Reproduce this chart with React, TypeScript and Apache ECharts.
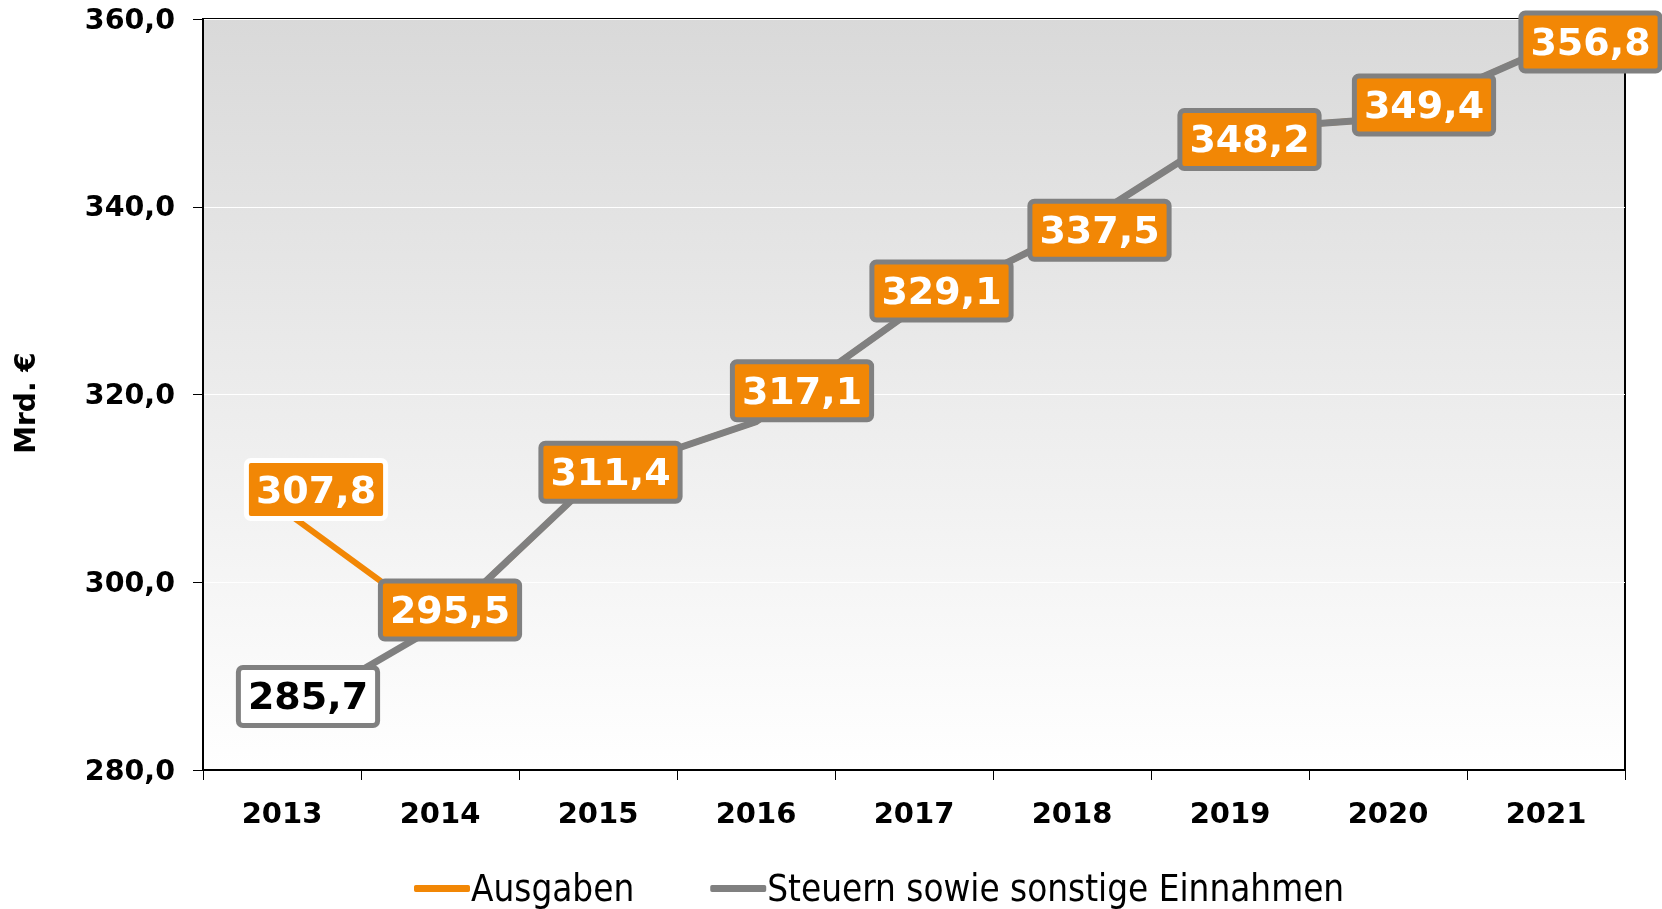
import React, { useEffect, useRef } from "react";
import * as echarts from "echarts";

const years = ["2013", "2014", "2015", "2016", "2017", "2018", "2019", "2020", "2021"];
const ausgaben = [307.8, 295.5, 311.4, 317.1, 329.1, 337.5, 348.2, 349.4, 356.8];
const einnahmen = [285.7, 295.5, 311.4, 317.1, 329.1, 337.5, 348.2, 349.4, 356.8];
const yMin = 280;
const yMax = 360;
const yStep = 20;
const seriesNames = ["Ausgaben", "Steuern sowie sonstige Einnahmen"];

// label placement (offset of each label box from its point, in px)
const ausgabenLabelOffsets = [[34, -19.5]];
const einnahmenLabelOffsets = [
  [26, -20], [10, -14.5], [12.5, -3], [46, -31], [27.5, -18],
  [27.5, 0], [19.5, 9.7], [36, -13.5], [44.5, -7],
];

const ORANGE = "#F28705";
const GRAY = "#808080";
const FONT = "'DejaVu Sans', Verdana, sans-serif";

const fmt = (v: number) => v.toFixed(1).replace(".", ",");

const baseLabel = {
  show: true,
  position: "inside",
  fontFamily: FONT,
  fontWeight: "bold",
  fontSize: 38,
  lineHeight: 42,
  padding: [6, 7, 5, 7],
  borderWidth: 5,
  borderRadius: 2,
  formatter: (p: any) => fmt(p.value),
};

export default function App() {
  const ref = useRef<HTMLDivElement>(null);
  useEffect(() => {
    if (!ref.current) return;
    const chart = echarts.init(ref.current, undefined, { renderer: "svg" });
    const ausgabenData = ausgaben.map((v, i) => {
      const off = ausgabenLabelOffsets[i];
      return {
        value: v,
        label: off
          ? { ...baseLabel, offset: off, color: "#fff", backgroundColor: ORANGE, borderColor: "#fff" }
          : { show: false },
      };
    });
    const einnahmenData = einnahmen.map((v, i) => {
      const off = einnahmenLabelOffsets[i];
      const first = i === 0;
      return {
        value: v,
        label: {
          ...baseLabel,
          offset: off,
          color: first ? "#000" : "#fff",
          backgroundColor: first ? "#fff" : ORANGE,
          borderColor: GRAY,
        },
      };
    });
    chart.setOption({
      animation: false,
      grid: {
        left: 203,
        top: 19,
        width: 1422,
        height: 751,
        show: true,
        backgroundColor: new echarts.graphic.LinearGradient(0, 0, 0, 1, [
          { offset: 0, color: "#d9d9d9" },
          { offset: 1, color: "#ffffff" },
        ]),
        borderColor: "#000",
        borderWidth: 2,
      },
      legend: {
        left: 409,
        top: 865,
        itemWidth: 56,
        itemHeight: 7,
        itemGap: 76,
        icon: "roundRect",
        textStyle: {
          fontFamily: "'DejaVu Sans Condensed', 'DejaVu Sans', sans-serif",
          fontSize: 36.5,
          color: "#000",
          padding: [0, 0, 0, -4],
        },
        data: seriesNames,
      },
      xAxis: {
        type: "category",
        data: years,
        boundaryGap: true,
        axisLine: { lineStyle: { color: "#000", width: 2 } },
        axisTick: { show: true, length: 10, lineStyle: { color: "#000", width: 1 }, interval: 0 },
        axisLabel: {
          fontFamily: FONT,
          fontWeight: "bold",
          fontSize: 29,
          color: "#000",
          margin: 28,
          interval: 0,
        },
        splitLine: { show: false },
      },
      yAxis: {
        type: "value",
        min: yMin,
        max: yMax,
        interval: yStep,
        axisLine: { show: true, lineStyle: { color: "#000", width: 2 } },
        axisTick: { show: true, length: 10, lineStyle: { color: "#000", width: 1 } },
        axisLabel: {
          fontFamily: FONT,
          fontWeight: "bold",
          fontSize: 28.5,
          color: "#000",
          margin: 28,
          formatter: (v: number) => fmt(v),
        },
        splitLine: { show: true, lineStyle: { color: "#ffffff", width: 1 } },
      },
      graphic: [
        {
          type: "text",
          x: 25,
          y: 403,
          rotation: Math.PI / 2,
          style: {
            text: "Mrd. €",
            fontFamily: FONT,
            fontWeight: "bold",
            fontSize: 28,
            fill: "#000",
            textAlign: "center",
            textVerticalAlign: "middle",
          },
        },
      ],
      series: [
        {
          name: seriesNames[0],
          type: "line",
          data: ausgabenData,
          symbol: "circle",
          symbolSize: 1,
          showSymbol: true,
          lineStyle: { color: ORANGE, width: 6 },
          itemStyle: { color: ORANGE },
          z: 2,
        },
        {
          name: seriesNames[1],
          type: "line",
          data: einnahmenData,
          symbol: "circle",
          symbolSize: 1,
          showSymbol: true,
          lineStyle: { color: GRAY, width: 7 },
          itemStyle: { color: GRAY },
          z: 3,
        },
      ],
    });
    return () => chart.dispose();
  }, []);
  return (
    <div
      ref={ref}
      style={{ position: "fixed", left: 0, top: 0, width: 1662, height: 909 }}
    />
  );
}
